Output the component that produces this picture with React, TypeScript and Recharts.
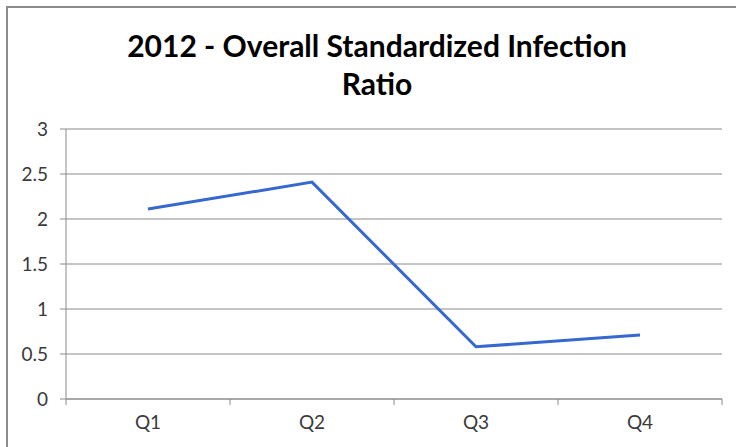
import React from "react";
import { LineChart, Line, XAxis, YAxis, CartesianGrid } from "recharts";

const quarters = ["Q1", "Q2", "Q3", "Q4"];
const sirValues = [2.11, 2.41, 0.58, 0.71];
const yTicks = [0, 0.5, 1, 1.5, 2, 2.5, 3];
const titleLines = ["2012 - Overall Standardized Infection", "Ratio"];

const data = quarters.map((q, i) => ({ quarter: q, sir: sirValues[i] }));

const FONT = "Lato, 'Open Sans', sans-serif";
const GRID = "#8a8a8a";

const XTick = (props: any) => {
  const { x, y, payload, index, visibleTicksCount } = props;
  const half = payload && payload.offset ? payload.offset : 82;
  const axisY = y - 17;
  return (
    <g>
      <line x1={x - half} x2={x - half} y1={axisY} y2={axisY + 6} stroke={GRID} strokeWidth={1} />
      {index === visibleTicksCount - 1 && (
        <line x1={x + half} x2={x + half} y1={axisY} y2={axisY + 6} stroke={GRID} strokeWidth={1} />
      )}
      <text x={x} y={y} dy="0.71em" textAnchor="middle" fill="#3a3a3a" fontSize={19} fontFamily={FONT}>
        {payload.value}
      </text>
    </g>
  );
};

export default function App() {
  return (
    <div style={{ position: "fixed", left: 0, top: 0, width: 736, height: 447, overflow: "hidden", background: "#fff" }}>
      <div
        style={{
          position: "absolute",
          left: 6,
          top: 6,
          width: 800,
          height: 500,
          borderLeft: "2px solid #8b8b8b",
          borderTop: "2px solid #8b8b8b",
        }}
      />
      {titleLines.map((t, i) => (
        <div
          key={i}
          style={{
            position: "absolute",
            left: 0,
            width: 754,
            top: 26 + i * 38,
            textAlign: "center",
            fontFamily: FONT,
            fontWeight: 700,
            fontSize: 30,
            lineHeight: "38px",
            color: "#000",
          }}
        >
          {t}
        </div>
      ))}
      <div style={{ position: "absolute", left: 0, top: 0 }}>
        <LineChart width={736} height={447} data={data} margin={{ top: 129, right: 14, left: 0, bottom: 0 }}>
          <CartesianGrid vertical={false} stroke={GRID} strokeWidth={1} />
          <XAxis
            dataKey="quarter"
            scale="band"
            height={48}
            axisLine={{ stroke: GRID }}
            tickLine={false}
            tickMargin={17}
            tickSize={0}
            tick={<XTick />}
            interval={0}
          />
          <YAxis
            width={66}
            domain={[0, 3]}
            ticks={yTicks}
            interval={0}
            axisLine={{ stroke: GRID }}
            tickLine={{ stroke: GRID }}
            tickSize={6}
            tickMargin={12}
            tick={{ fill: "#3a3a3a", fontSize: 19, fontFamily: FONT }}
          />
          <Line
            type="linear"
            dataKey="sir"
            stroke="#3568d0"
            strokeWidth={3}
            dot={false}
            activeDot={false}
            isAnimationActive={false}
          />
        </LineChart>
      </div>
    </div>
  );
}
